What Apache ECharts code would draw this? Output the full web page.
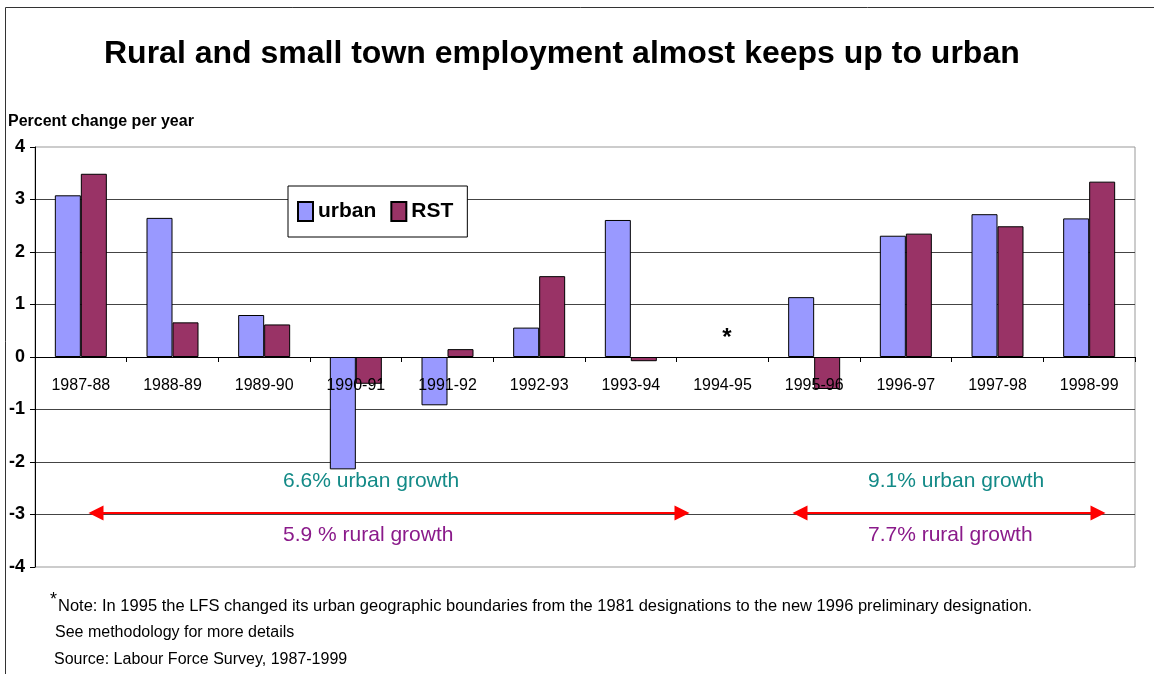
<!DOCTYPE html>
<html>
<head>
<meta charset="utf-8">
<title>Rural and small town employment</title>
<script src="https://cdn.jsdelivr.net/npm/echarts@6/dist/echarts.min.js"></script>
<style>
  html, body { margin: 0; padding: 0; background: #fff; }
  #chart { width: 1154px; height: 674px; }
</style>
</head>
<body>
<div id="chart"></div>
<script>
// data
const years = ['1987-88', '1988-89', '1989-90', '1990-91', '1991-92', '1992-93',
  '1993-94', '1994-95', '1995-96', '1996-97', '1997-98', '1998-99']
const urban = [3.08, 2.65, 0.80, -2.14, -0.92, 0.56, 2.61, null, 1.14, 2.31, 2.72, 2.64]
const rst = [3.49, 0.66, 0.62, -0.51, 0.15, 1.54, -0.08, null, -0.61, 2.35, 2.49, 3.34]
const yMin = -4
const yMax = 4
const yStep = 1

const FONT = '"Liberation Sans", Arial, sans-serif'
const GRID_BOTTOM = 107

const chart = echarts.init(document.getElementById('chart'))

// red double arrows under the bars (pixel coords, annotation only)
const arrowLine = (x1, x2, y) => [
  { x: x1, y: y },
  { x: x2, y: y }
]

const option = {
  animation: false,
  backgroundColor: '#fff',
  textStyle: { fontFamily: FONT },
  title: {
    text: 'Rural and small town employment almost keeps up to urban',
    left: 104,
    top: 38,
    padding: 0,
    textStyle: { fontFamily: FONT, fontSize: 32, fontWeight: 'bold', color: '#000' }
  },
  legend: {
    left: 288,
    top: 186,
    orient: 'horizontal',
    padding: [15, 14, 15, 9],
    itemGap: 14,
    itemWidth: 15,
    itemHeight: 19,
    icon: 'rect',
    borderColor: '#000',
    borderWidth: 1,
    backgroundColor: '#fff',
    textStyle: { fontFamily: FONT, fontSize: 21, fontWeight: 'bold', color: '#000' },
    data: ['urban', 'RST']
  },
  grid: {
    left: 35,
    right: 19,
    top: 147,
    bottom: GRID_BOTTOM,
    show: true,
    borderColor: '#999',
    borderWidth: 1
  },
  xAxis: {
    type: 'category',
    data: years,
    z: 5,
    axisLine: { onZero: false, lineStyle: { color: '#000', width: 1 } },
    axisTick: { show: true, length: 5, lineStyle: { color: '#000' } },
    axisLabel: { fontFamily: FONT, fontSize: 16, color: '#000', margin: 21 },
    splitLine: { show: false }
  },
  yAxis: {
    type: 'value',
    min: yMin,
    max: yMax,
    interval: yStep,
    axisLine: { show: true, lineStyle: { color: '#000', width: 1 } },
    axisTick: { show: true, length: 5, lineStyle: { color: '#000' } },
    axisLabel: { fontFamily: FONT, fontSize: 18, fontWeight: 'bold', color: '#000', margin: 10 },
    splitLine: { show: true, showMinLine: false, showMaxLine: false, lineStyle: { color: '#444', width: 1 } }
  },
  series: [
    {
      name: 'urban',
      type: 'bar',
      data: urban,
      barWidth: 26,
      barGap: '0%',
      itemStyle: { color: '#9999FF', borderColor: '#000', borderWidth: 1 },
      markLine: {
        silent: true,
        symbol: ['triangle', 'triangle'],
        symbolSize: [15, 15],
        label: { show: false },
        lineStyle: { color: '#ff0000', width: 2, type: 'solid' },
        data: [arrowLine(96, 682, 513), arrowLine(800, 1098, 513)]
      }
    },
    {
      name: 'RST',
      type: 'bar',
      data: rst,
      barWidth: 26,
      itemStyle: { color: '#993366', borderColor: '#000', borderWidth: 1 }
    }
  ],
  graphic: [
    // outer frame
    {
      type: 'rect',
      shape: { x: 5.5, y: 7.5, width: 1300, height: 800 },
      style: { fill: null, stroke: '#333', lineWidth: 1 },
      silent: true,
      z: -1
    },
    {
      type: 'text', left: 8, top: 114,
      style: { text: 'Percent change per year', font: 'bold 16px ' + FONT, fill: '#000' }
    },
    {
      type: 'text', x: 727, y: 338,
      style: { text: '*', font: 'bold 24px ' + FONT, fill: '#000', align: 'center', verticalAlign: 'middle' }
    },
    {
      type: 'text', x: 283, y: 481,
      style: { text: '6.6% urban growth', font: '21px ' + FONT, fill: '#138a87', verticalAlign: 'middle' }
    },
    {
      type: 'text', x: 283, y: 535,
      style: { text: '5.9 % rural growth', font: '21px ' + FONT, fill: '#8a1a8a', verticalAlign: 'middle' }
    },
    {
      type: 'text', x: 868, y: 481,
      style: { text: '9.1% urban growth', font: '21px ' + FONT, fill: '#138a87', verticalAlign: 'middle' }
    },
    {
      type: 'text', x: 868, y: 535,
      style: { text: '7.7% rural growth', font: '21px ' + FONT, fill: '#8a1a8a', verticalAlign: 'middle' }
    },
    // footnotes
    {
      type: 'text', x: 50, y: 591,
      style: { text: '*', font: '18px ' + FONT, fill: '#000' }
    },
    {
      type: 'text', x: 58, y: 606,
      style: {
        text: 'Note: In 1995 the LFS changed its urban geographic boundaries from the 1981 designations to the new 1996 preliminary designation.',
        font: '16.5px ' + FONT, fill: '#000', verticalAlign: 'middle'
      }
    },
    {
      type: 'text', x: 55, y: 633,
      style: { text: 'See methodology for more details', font: '16px ' + FONT, fill: '#000', verticalAlign: 'middle' }
    },
    {
      type: 'text', x: 54, y: 660,
      style: { text: 'Source: Labour Force Survey, 1987-1999', font: '16px ' + FONT, fill: '#000', verticalAlign: 'middle' }
    }
  ]
}

chart.setOption(option)

// move the category axis up to the zero line of the value axis
const zeroY = chart.convertToPixel({ yAxisIndex: 0 }, 0)
const bottomY = chart.getHeight() - GRID_BOTTOM
chart.setOption({ xAxis: { offset: -(bottomY - zeroY) } })
</script>
</body>
</html>
